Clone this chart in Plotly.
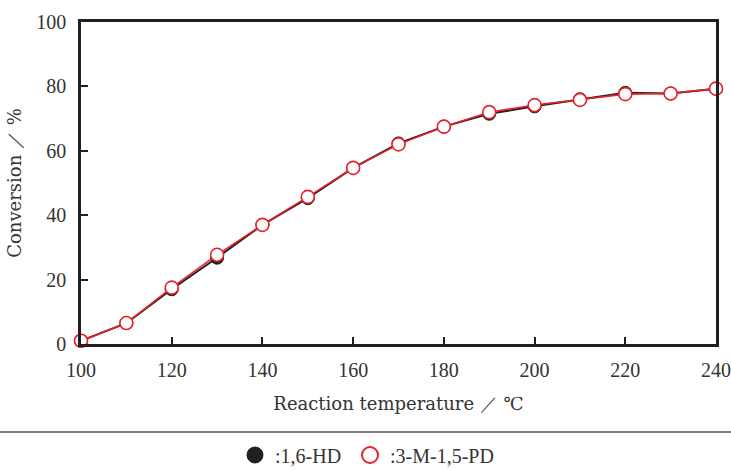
import plotly.graph_objects as go

temps = [100, 110, 120, 130, 140, 150, 160, 170, 180, 190, 200, 210, 220, 230, 240]
hd_conv = [1.0, 6.5, 17.0, 26.8, 37.0, 45.3, 54.7, 62.3, 67.5, 71.5, 73.8, 76.0, 78.0, 77.8, 79.3]
mpd_conv = [1.0, 6.5, 17.5, 27.7, 37.0, 45.7, 54.7, 62.0, 67.5, 72.0, 74.2, 75.8, 77.6, 77.8, 79.3]
legend_names = [":1,6-HD", ":3-M-1,5-PD"]

FONT = "Liberation Serif"
TFONT = "DejaVu Serif"
BLACK = "#231f20"
TEXT = "#333333"
RED = "#e8212a"

PW, PH = 635, 322  # plot area size in px

fig = go.Figure()
fig.add_trace(go.Scatter(
    x=temps, y=hd_conv, mode="lines+markers", showlegend=False,
    line=dict(color=BLACK, width=2),
    marker=dict(symbol="circle", size=13, color=BLACK, line=dict(color=BLACK, width=1)),
))
fig.add_trace(go.Scatter(
    x=temps, y=mpd_conv, mode="lines+markers", showlegend=False,
    line=dict(color=RED, width=1.6),
    marker=dict(symbol="circle", size=13, color="white", line=dict(color=RED, width=1.6)),
))
# legend-only entries (markers only)
fig.add_trace(go.Scatter(
    x=[None], y=[None], mode="markers", name=legend_names[0], legend="legend",
    marker=dict(symbol="circle", size=18, color=BLACK, line=dict(color=BLACK, width=1)),
))
fig.add_trace(go.Scatter(
    x=[None], y=[None], mode="markers", name=legend_names[1], legend="legend2",
    marker=dict(symbol="circle", size=19, color="white", line=dict(color=RED, width=2)),
))

leg_common = dict(orientation="h", yanchor="middle", y=-(455 - 344) / PH, xanchor="left",
                  font=dict(family=FONT, size=20, color=TEXT), itemsizing="trace",
                  bgcolor="rgba(0,0,0,0)", borderwidth=0)

fig.update_layout(
    width=731, height=471,
    margin=dict(l=81, r=15, t=22, b=127, autoexpand=False),
    paper_bgcolor="white", plot_bgcolor="white",
    font=dict(family=FONT, size=19, color=TEXT),
    showlegend=True,
    legend=dict(leg_common, x=(254 - 81 - 19) / PW),
    legend2=dict(leg_common, x=(371 - 81 - 21) / PW),
    xaxis=dict(range=[100, 240], tickvals=list(range(100, 241, 20)), ticks="inside", ticklen=7,
               tickwidth=1.5, tickcolor=BLACK, showline=True, linecolor=BLACK, linewidth=2.5,
               mirror=True, showgrid=False, zeroline=False, ticklabelstandoff=6,
               tickfont=dict(size=20),
               title=dict(text="Reaction temperature ／ ℃", standoff=18,
                          font=dict(family=TFONT, size=18))),
    yaxis=dict(range=[0, 100], tickvals=list(range(0, 101, 20)), ticks="inside", ticklen=7,
               tickwidth=1.5, tickcolor=BLACK, showline=True, linecolor=BLACK, linewidth=2.5,
               mirror=True, showgrid=False, zeroline=False, ticklabelstandoff=8,
               tickfont=dict(size=20),
               title=dict(text="Conversion ／ %", standoff=10,
                          font=dict(family=TFONT, size=18))),
)
fig.update_traces(cliponaxis=False)

fig.add_shape(type="line", xref="paper", yref="paper", x0=-81 / PW, x1=(731 - 81) / PW,
              y0=-(432 - 344) / PH, y1=-(432 - 344) / PH, line=dict(color="#555555", width=1.5))

fig.write_html("out.html")
